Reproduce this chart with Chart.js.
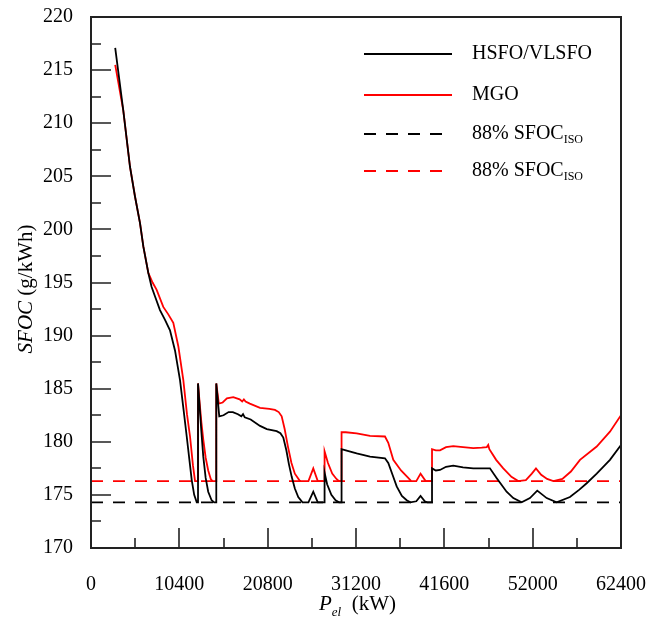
<!DOCTYPE html>
<html>
<head>
<meta charset="utf-8">
<title>SFOC vs Pel</title>
<script src="https://cdn.jsdelivr.net/npm/chart.js@4.4.0/dist/chart.umd.min.js"></script>
<style>
  html, body { margin: 0; padding: 0; background: #fff; }
  canvas { display: block; }
</style>
</head>
<body>
<canvas id="sfocChart" width="649" height="619"></canvas>
<script>
// values
const hsfoPower = [2850, 3800, 4590, 5180, 5770, 6160, 6750, 7130, 7530, 8120, 8700, 9300, 9890, 10480, 10900, 11270, 11600, 11860, 12150, 12450, 12600,
  12600, 12800, 13000, 13220, 13500, 13800, 14200, 14500, 14750,
  14750, 15100, 15600, 16200, 16700, 17300, 17700, 17900, 18100, 18800, 19900, 20700, 21860, 22300, 22640, 23000, 23300, 23630, 24000, 24400, 24900,
  25600, 26170, 26700, 27500, 27500, 27800, 28300, 28800, 29200, 29500,
  29500, 30000, 31280, 32850, 34610, 35000, 35500, 35990, 36600, 37170, 37600, 38300, 38800, 39300, 39600, 40150,
  40150, 40600, 41090, 41800, 42650, 43800, 45010, 46000, 46970, 47750, 48930, 49720, 50700, 51680, 52540, 53650, 54820, 56390, 57500, 58360, 59540, 61100, 62400];
const hsfoSfoc = [217.1, 211.2, 205.9, 203.1, 200.6, 198.4, 195.9, 194.6, 193.7, 192.4, 191.5, 190.5, 188.6, 185.8, 183.0, 180.5, 178.2, 176.4, 175.0, 174.3, 174.3,
  185.5, 183.2, 180.9, 178.6, 176.6, 175.3, 174.5, 174.3, 174.3,
  185.5, 182.4, 182.5, 182.8, 182.8, 182.6, 182.4, 182.6, 182.3, 182.1, 181.5, 181.2, 181.0, 180.8, 180.4, 179.2, 177.9, 176.7, 175.6, 174.8, 174.3,
  174.3, 175.3, 174.3, 174.3, 177.1, 176.0, 175.0, 174.5, 174.3, 174.3,
  179.3, 179.2, 178.9, 178.6, 178.45, 178.0, 176.9, 175.8, 174.9, 174.5, 174.3, 174.4, 174.9, 174.4, 174.3, 174.3,
  177.5, 177.3, 177.35, 177.65, 177.75, 177.6, 177.5, 177.5, 177.5, 176.6, 175.3, 174.7, 174.3, 174.7, 175.4, 174.7, 174.3, 174.8, 175.5, 176.1, 177.0, 178.3, 179.7];

const mgoPower = [2850, 3800, 4590, 5180, 5770, 6160, 6750, 7250, 7730, 8510, 9100, 9690, 10280, 10870, 11300, 11660, 12000, 12250, 12600,
  12600, 12800, 13000, 13220, 13500, 13800, 14100, 14300, 14750,
  14750, 15050, 15500, 16000, 16750, 17500, 17800, 18000, 18200, 18700, 19900, 21000, 21660, 22100, 22450, 22800, 23200, 23600, 24000, 24600,
  25600, 26170, 26700, 27500, 27500, 27900, 28400, 28900, 29200, 29500,
  29500, 30000, 31280, 32850, 34610, 35000, 35590, 36500, 37350, 37700, 38300, 38800, 39400, 40150,
  40150, 40600, 41090, 41800, 42650, 43800, 45010, 46000, 46600, 46770, 46900, 47700, 48540, 49500, 50300, 51200, 51900, 52390, 53000, 53700, 54430, 55500, 56500, 57570, 59540, 61100, 62400];
const mgoSfoc = [215.5, 211.2, 205.9, 203.1, 200.6, 198.4, 195.9, 195.0, 194.3, 192.7, 192.0, 191.2, 189.0, 185.8, 182.6, 180.5, 177.8, 176.3, 176.3,
  185.5, 183.6, 181.8, 180.2, 178.5, 177.3, 176.5, 176.3, 176.3,
  185.5, 183.6, 183.7, 184.1, 184.2, 184.0, 183.8, 184.0, 183.8, 183.6, 183.2, 183.1, 183.0, 182.8, 182.4, 181.2, 179.5, 178.0, 177.0, 176.3,
  176.3, 177.5, 176.3, 176.3, 179.1, 178.0, 177.0, 176.5, 176.3, 176.3,
  180.9, 180.9, 180.8, 180.55, 180.5, 179.9, 178.3, 177.3, 176.6, 176.3, 176.3, 177.0, 176.3, 176.3,
  179.3, 179.2, 179.2, 179.5, 179.6, 179.5, 179.4, 179.45, 179.5, 179.7, 179.3, 178.3, 177.5, 176.7, 176.3, 176.4, 177.0, 177.5, 176.9, 176.5, 176.3, 176.5, 177.2, 178.3, 179.55, 180.95, 182.5];

const limitPower = [0, 62400];
const hsfoLimit = [174.3, 174.3];
const mgoLimit = [176.3, 176.3];

const seriesLabels = ["HSFO/VLSFO", "MGO", "88% SFOC_ISO", "88% SFOC_ISO"];
const legendRows = [54, 95, 134, 171];
const xTicks = [0, 10400, 20800, 31200, 41600, 52000, 62400];
const yTicks = [170, 175, 180, 185, 190, 195, 200, 205, 210, 215, 220];

const serif = "'Times New Roman', 'Liberation Serif', serif";

function toPoints(xs, ys) {
    return xs.map((x, i) => ({ x: x, y: ys[i] }));
}

// draws "main_sub" text with the part after "_" as a subscript, returns end x
function drawSubText(ctx, text, x, y, size, italicMain) {
    const parts = text.split("_");
    ctx.font = (italicMain ? "italic " : "") + size + "px " + serif;
    ctx.fillText(parts[0], x, y);
    let end = x + ctx.measureText(parts[0]).width;
    if (parts[1]) {
        ctx.font = (italicMain ? "italic " : "") + Math.round(size * 0.62) + "px " + serif;
        ctx.fillText(parts[1], end, y + size * 0.28);
        end += ctx.measureText(parts[1]).width;
    }
    return end;
}

const decorPlugin = {
    id: "decor",
    afterDraw(chart) {
        const ctx = chart.ctx;
        const area = chart.chartArea;
        const xs = chart.scales.x;
        const ys = chart.scales.y;
        ctx.save();

        // frame
        ctx.strokeStyle = "#222";
        ctx.lineWidth = 2;
        ctx.strokeRect(area.left, area.top, area.right - area.left, area.bottom - area.top);

        // inward tick marks
        ctx.lineWidth = 1.6;
        ctx.beginPath();
        xTicks.forEach((v, i) => {
            const px = Math.round(xs.getPixelForValue(v));
            ctx.moveTo(px, area.bottom);
            ctx.lineTo(px, area.bottom - 20);
            if (i < xTicks.length - 1) {
                const mx = Math.round(xs.getPixelForValue((v + xTicks[i + 1]) / 2));
                ctx.moveTo(mx, area.bottom);
                ctx.lineTo(mx, area.bottom - 10);
            }
        });
        yTicks.forEach((v, i) => {
            const py = Math.round(ys.getPixelForValue(v));
            ctx.moveTo(area.left, py);
            ctx.lineTo(area.left + 20, py);
            if (i < yTicks.length - 1) {
                const my = Math.round(ys.getPixelForValue((v + yTicks[i + 1]) / 2));
                ctx.moveTo(area.left, my);
                ctx.lineTo(area.left + 10, my);
            }
        });
        ctx.stroke();

        // legend
        ctx.fillStyle = "#000";
        ctx.textBaseline = "middle";
        ctx.textAlign = "left";
        chart.data.datasets.forEach((ds, i) => {
            const ly = legendRows[i];
            ctx.strokeStyle = ds.borderColor;
            ctx.lineWidth = ds.borderWidth;
            ctx.setLineDash(ds.borderDash || []);
            ctx.beginPath();
            ctx.moveTo(364, ly);
            ctx.lineTo(452, ly);
            ctx.stroke();
            ctx.setLineDash([]);
            drawSubText(ctx, ds.label, 472, ly, 20, false);
        });

        // x axis title: P_el (kW)
        ctx.textBaseline = "alphabetic";
        let end = drawSubText(ctx, "P_el", 319, 610, 21, true);
        ctx.font = "21px " + serif;
        ctx.fillText("  (kW)", end, 610);

        // y axis title: SFOC (g/kWh)
        ctx.translate(32, 289);
        ctx.rotate(-Math.PI / 2);
        ctx.font = "italic 21px " + serif;
        const w1 = ctx.measureText("SFOC").width;
        ctx.font = "21px " + serif;
        const w2 = ctx.measureText(" (g/kWh)").width;
        const start = -(w1 + w2) / 2;
        ctx.font = "italic 21px " + serif;
        ctx.fillText("SFOC", start, 0);
        ctx.font = "21px " + serif;
        ctx.fillText(" (g/kWh)", start + w1, 0);

        ctx.restore();
    }
};

document.addEventListener("DOMContentLoaded", function() {
    const ctx = document.getElementById("sfocChart").getContext("2d");

    new Chart(ctx, {
        type: "line",
        data: {
            datasets: [
                { label: seriesLabels[0], data: toPoints(hsfoPower, hsfoSfoc), borderColor: "#000000", borderWidth: 1.8 },
                { label: seriesLabels[1], data: toPoints(mgoPower, mgoSfoc), borderColor: "#ff0000", borderWidth: 1.8 },
                { label: seriesLabels[2], data: toPoints(limitPower, hsfoLimit), borderColor: "#000000", borderWidth: 1.8, borderDash: [12, 10] },
                { label: seriesLabels[3], data: toPoints(limitPower, mgoLimit), borderColor: "#ff0000", borderWidth: 1.8, borderDash: [12, 10] }
            ]
        },
        options: {
            responsive: false,
            animation: false,
            layout: { padding: { top: 17, right: 28, left: 0, bottom: 0 } },
            elements: {
                point: { radius: 0 },
                line: { tension: 0, fill: false }
            },
            plugins: {
                legend: { display: false },
                tooltip: { enabled: false }
            },
            scales: {
                x: {
                    type: "linear",
                    min: 0,
                    max: 62400,
                    afterFit(scale) {
                        scale.height = 71;
                        scale.paddingLeft = 0;
                        scale.paddingRight = 0;
                    },
                    afterBuildTicks(scale) { scale.ticks = xTicks.map(v => ({ value: v })); },
                    ticks: {
                        autoSkip: false,
                        maxRotation: 0,
                        padding: 17,
                        color: "#000",
                        font: { family: serif, size: 20 },
                        callback: v => String(v)
                    },
                    grid: { display: false },
                    border: { display: false }
                },
                y: {
                    min: 170,
                    max: 220,
                    afterFit(scale) {
                        scale.width = 91;
                        scale.paddingTop = 0;
                        scale.paddingBottom = 0;
                    },
                    afterBuildTicks(scale) { scale.ticks = yTicks.map(v => ({ value: v })); },
                    ticks: {
                        padding: 10,
                        color: "#000",
                        font: { family: serif, size: 20 },
                        callback: v => String(v)
                    },
                    grid: { display: false },
                    border: { display: false }
                }
            }
        },
        plugins: [decorPlugin]
    });
});
</script>
</body>
</html>
